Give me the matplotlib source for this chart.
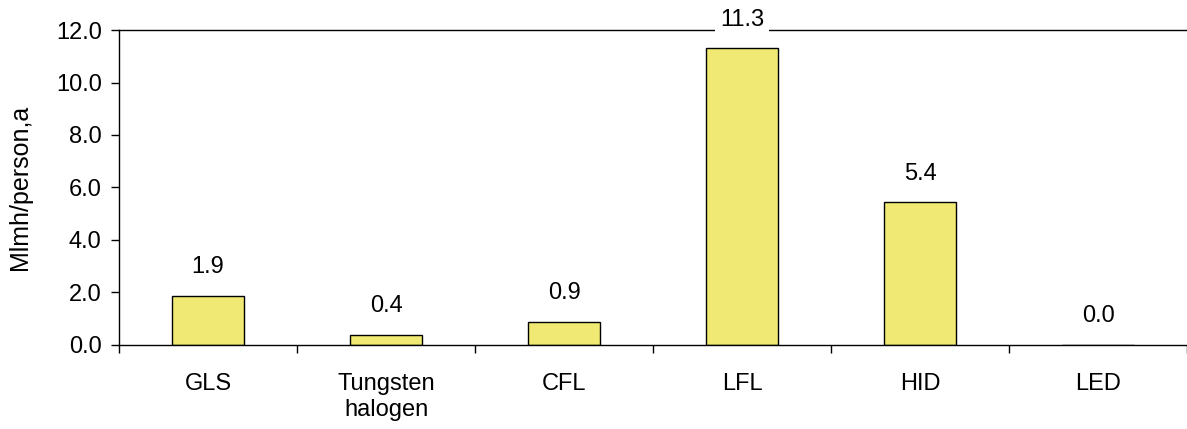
import numpy as np
import matplotlib
matplotlib.use('Agg')
import matplotlib.pyplot as plt

plt.rcParams['font.family'] = ['Liberation Sans', 'DejaVu Sans']

lamps = ['GLS', 'Tungsten\nhalogen', 'CFL', 'LFL', 'HID', 'LED']
mlmh = [1.86, 0.38, 0.86, 11.3, 5.43, 0.0]
yticks = [0, 2, 4, 6, 8, 10, 12]

fig = plt.figure(figsize=(11.87, 4.29), dpi=100)
ax = fig.add_axes([0.1003, 0.196, 0.8997, 0.734])

x = np.arange(len(lamps))
ax.bar(x, mlmh, width=0.405, color='#f0e974', edgecolor='black', linewidth=1.0)

# value labels above each bar, on white so the top line is broken
for xi, v in zip(x, mlmh):
    ax.text(xi, v + 1.1, '%.1f' % v, ha='center', va='center', fontsize=17,
            zorder=5, clip_on=False,
            bbox=dict(facecolor='white', edgecolor='none', pad=3.5))

ax.set_xlim(-0.5, len(lamps) - 0.5)
ax.set_ylim(0, 12)
ax.set_yticks(yticks)
ax.set_yticklabels(['%.1f' % t for t in yticks], fontsize=17)
ax.set_xticks(x)
ax.set_xticklabels(lamps, fontsize=17, linespacing=1.25)
ax.set_xticks(np.arange(len(lamps) + 1) - 0.5, minor=True)
ax.tick_params(axis='x', which='major', length=0, pad=20)
ax.tick_params(axis='x', which='minor', length=5.5, direction='out', width=1)
ax.tick_params(axis='y', length=5.5, direction='out', width=1, pad=7)

ax.spines['right'].set_visible(False)
for s in ['left', 'bottom', 'top']:
    ax.spines[s].set_linewidth(1.0)

ax.set_ylabel('Mlmh/person,a', fontsize=18, labelpad=17)

fig.savefig('out.png', dpi=100)
